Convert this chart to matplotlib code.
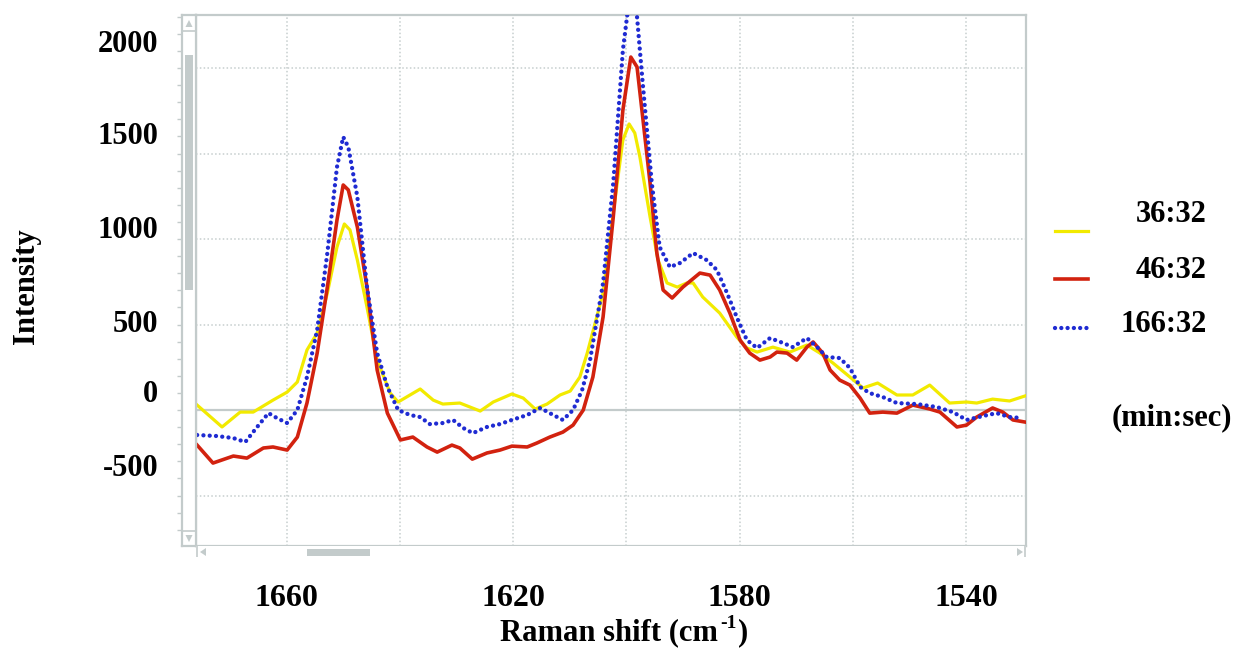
"""
Raman spectra at three acquisition times (recreated chart)
"""

import matplotlib
matplotlib.use("Agg")
import matplotlib.pyplot as plt
from matplotlib.patches import Rectangle, Polygon

# ---- data ------------------------------------------------------------------
x_3632 = [1675.8, 1671.4, 1668.2, 1665.9, 1662.4, 1659.9, 1658.1, 1656.4, 1654.6,
          1652.8, 1651.1, 1649.8, 1648.8, 1647.5, 1645.8, 1644.0, 1641.7, 1640.3,
          1638.2, 1636.4, 1634.1, 1632.4, 1629.4, 1625.8, 1623.5, 1620.2, 1618.2,
          1616.1, 1614.0, 1611.7, 1609.9, 1608.2, 1606.9, 1604.1, 1602.3, 1600.6,
          1599.5, 1598.5, 1597.6, 1595.8, 1594.4, 1592.8, 1591.0, 1589.3, 1588.2,
          1586.5, 1583.5, 1580.5, 1578.7, 1576.9, 1574.1, 1571.1, 1568.1, 1565.8,
          1563.5, 1560.5, 1558.2, 1555.6, 1552.2, 1549.4, 1546.4, 1542.9, 1539.9,
          1538.1, 1535.3, 1532.3, 1529.6]
y_3632 = [29, -99, -12, -12, 58, 105, 164, 351, 450,
          684, 953, 1088, 1053, 877, 602, 292, 99, 47,
          88, 123, 58, 35, 41, -6, 47, 94, 70,
          6, 35, 88, 111, 193, 333, 684, 1152, 1579,
          1673, 1620, 1480, 1129, 877, 743, 719, 743, 743,
          661, 567, 427, 363, 339, 368, 339, 380, 333,
          275, 193, 129, 158, 88, 88, 146, 41, 47,
          41, 64, 53, 82]

x_4632 = [1675.8, 1673.0, 1669.4, 1667.0, 1664.1, 1662.4, 1659.9, 1658.1, 1656.4,
          1654.6, 1652.8, 1651.1, 1650.0, 1649.1, 1647.5, 1645.8, 1644.0, 1642.2,
          1639.9, 1637.7, 1635.2, 1633.4, 1630.8, 1629.4, 1627.2, 1624.6, 1622.3,
          1620.2, 1617.5, 1615.8, 1613.5, 1611.2, 1609.4, 1607.6, 1605.9, 1604.1,
          1602.3, 1600.6, 1599.2, 1598.1, 1597.1, 1595.8, 1594.6, 1593.5, 1591.9,
          1590.0, 1587.0, 1585.2, 1583.5, 1581.7, 1579.9, 1578.2, 1576.4, 1574.6,
          1573.4, 1571.6, 1569.9, 1568.1, 1567.0, 1565.3, 1564.0, 1562.3, 1560.5,
          1558.7, 1557.0, 1554.7, 1552.2, 1549.4, 1546.4, 1544.6, 1541.6, 1539.9,
          1538.1, 1535.3, 1533.5, 1531.7, 1529.6]
y_4632 = [-205, -310, -269, -281, -222, -216, -234, -158, 41,
          333, 719, 1111, 1316, 1287, 1070, 719, 234, -18,
          -175, -158, -216, -246, -205, -222, -287, -251, -234,
          -211, -216, -193, -158, -129, -88, 0, 193, 544,
          1129, 1754, 2064, 2006, 1713, 1328, 918, 702, 655,
          719, 801, 789, 702, 567, 409, 333, 292, 310,
          339, 333, 292, 368, 398, 333, 234, 175, 146,
          70, -18, -12, -18, 29, 6, -12, -99, -88,
          -41, 12, -12, -58, -70]

x_16632 = [1675.8, 1672.3, 1669.4, 1667.3, 1665.2, 1663.2, 1661.7, 1659.9, 1658.1,
           1656.4, 1654.6, 1652.8, 1651.1, 1650.0, 1649.1, 1647.5, 1645.8, 1644.0,
           1642.2, 1640.3, 1638.2, 1636.4, 1634.7, 1632.4, 1630.6, 1628.8, 1627.1,
           1624.6, 1622.3, 1620.2, 1617.5, 1615.2, 1612.9, 1611.2, 1609.4, 1607.8,
           1606.4, 1604.1, 1602.3, 1600.6, 1599.3, 1598.1, 1597.1, 1595.5, 1594.1,
           1592.3, 1590.5, 1588.2, 1585.8, 1584.0, 1582.2, 1580.5, 1578.7, 1576.9,
           1574.6, 1572.3, 1570.6, 1568.1, 1566.3, 1564.6, 1562.3, 1560.5, 1558.7,
           1557.0, 1554.7, 1552.2, 1548.7, 1545.2, 1542.3, 1539.9, 1537.0, 1534.6,
           1532.3, 1530.0]
y_16632 = [-146, -152, -164, -187, -99, -18, -47, -76, 0,
           193, 468, 918, 1421, 1597, 1538, 1246, 719, 333,
           135, 0, -29, -41, -82, -76, -58, -105, -135,
           -99, -82, -58, -29, 12, -29, -58, 0, 117,
           292, 743, 1328, 2105, 2450, 2298, 1912, 1328, 953,
           836, 860, 918, 877, 819, 684, 544, 409, 363,
           421, 392, 368, 421, 368, 310, 304, 246, 135,
           99, 76, 41, 35, 18, -12, -58, -35, -18,
           -41, -47]

series_labels = ["36:32", "46:32", "166:32"]
series_colors = ["#f2ea00", "#d2220f", "#1f2bd2"]

x_ticks = [1660, 1620, 1580, 1540]
y_tick_labels = ["2000", "1500", "1000", "500", "0", "-500"]

# ---- figure ------------------------------------------------------------------
W, H = 1239, 649
fig = plt.figure(figsize=(W / 100, H / 100), dpi=100)
FONT = dict(family="Liberation Serif", weight="bold", size=22)
FRAME = "#c3cbcb"
GRID = "#c6cece"
YLIM = (-795, 2310)
DOTS = dict(lw=3.1, linestyle=(0, (0.01, 1.45)), dash_capstyle="round")


def fx(px):
    return px / W


def fy(py):
    return 1 - py / H


left_px, right_px, top_px, bot_px = 196, 1026, 15, 546
plot_h = (bot_px - top_px) / H

# minor tick marks left of the scroll bar (drawn first, underneath)
tk = fig.add_axes([fx(182), fy(bot_px), fx(right_px - 182), plot_h], frameon=False)
tk.set_ylim(*YLIM)
tk.set_xticks([])
tk.set_yticks(range(-700, 2301, 100))
tk.tick_params(axis="y", direction="out", length=3.5, color=FRAME, width=1,
               labelleft=False)

ax = fig.add_axes([fx(left_px), fy(bot_px), fx(right_px - left_px), plot_h])

ax.plot(x_3632, y_3632, color=series_colors[0], lw=2.3, zorder=3)
ax.plot(x_4632, y_4632, color=series_colors[1], lw=2.6, zorder=4)
ax.plot(x_16632, y_16632, color=series_colors[2], zorder=5, **DOTS)

ax.set_xlim(1676.0, 1529.4)
ax.set_ylim(*YLIM)

# grid
for gx in range(1540, 1661, 20):
    ax.axvline(gx, color=GRID, lw=1.1, linestyle=(0, (1, 1.5)), zorder=1)
for gy in [-500, 500, 1000, 1500, 2000]:
    ax.axhline(gy, color=GRID, lw=1.1, linestyle=(0, (1, 1.5)), zorder=1)
ax.axhline(0, color=FRAME, lw=1.6, zorder=2)

ax.set_xticks(x_ticks)
ax.set_xticklabels([str(t) for t in x_ticks], fontdict=dict(FONT, size=23))
ax.tick_params(axis="x", length=0, pad=27)
ax.set_yticks([])
for s in ax.spines.values():
    s.set_color(FRAME)
    s.set_linewidth(1.6)

# y tick labels (placed where the reference shows them)
label_py = [45, 137, 230, 325, 395, 468]
for txt, py in zip(y_tick_labels, label_py):
    fig.text(fx(158), fy(py), txt, ha="right", va="center", **FONT)

# axis titles
fig.text(fx(718), fy(633), "Raman shift (cm", ha="right", va="center", **FONT)
fig.text(fx(720), fy(623), "-1", ha="left", va="center", **dict(FONT, size=14))
fig.text(fx(738), fy(633), ")", ha="left", va="center", **FONT)
fig.text(fx(27), fy(286), "Intensity", ha="center", va="center", rotation=90, **FONT)

# left scroll bar
sb = fig.add_axes([fx(182), fy(bot_px), fx(14), plot_h])
sb.set_xlim(0, 14)
sb.set_ylim(bot_px, top_px)
sb.set_xticks([])
sb.set_yticks([])
for s in sb.spines.values():
    s.set_color(FRAME)
    s.set_linewidth(1.6)
sb.add_patch(Rectangle((3, 55), 8, 235, color=FRAME, lw=0))
sb.add_patch(Polygon([(3.5, 27), (10.5, 27), (7, 20)], color=FRAME, lw=0))
sb.add_patch(Polygon([(3.5, 535), (10.5, 535), (7, 542)], color=FRAME, lw=0))
sb.axhline(31, color=FRAME, lw=1.2)
sb.axhline(531, color=FRAME, lw=1.2)

# bottom scroll bar
hb = fig.add_axes([fx(left_px), fy(557), fx(right_px - left_px), 11 / H])
hb.set_xlim(left_px, right_px)
hb.set_ylim(557, bot_px)
hb.set_xticks([])
hb.set_yticks([])
for s in hb.spines.values():
    s.set_visible(False)
hb.axvline(left_px + 0.5, color=FRAME, lw=1.2)
hb.axvline(right_px - 1, color=FRAME, lw=1.2)
hb.add_patch(Rectangle((307, 549.5), 63, 7, color=FRAME, lw=0))
hb.add_patch(Polygon([(206, 548), (206, 556), (200, 552)], color=FRAME, lw=0))
hb.add_patch(Polygon([(1017, 548), (1017, 556), (1023, 552)], color=FRAME, lw=0))

# legend drawn by hand
lg = fig.add_axes([0, 0, 1, 1], frameon=False)
lg.set_xlim(0, W)
lg.set_ylim(H, 0)
lg.set_axis_off()
leg_y = [231, 279, 328]
txt_y = [215, 270, 325]
styles = [dict(lw=2.3), dict(lw=2.6), DOTS]
for lab, col, ly, ty, st in zip(series_labels, series_colors, leg_y, txt_y, styles):
    lg.plot([1055, 1088], [ly, ly], color=col, **st)
    lg.text(1207, ty, lab, ha="right", va="center", **FONT)
lg.text(1172, 418, "(min:sec)", ha="center", va="center", **FONT)

fig.savefig("out.png", dpi=100)
